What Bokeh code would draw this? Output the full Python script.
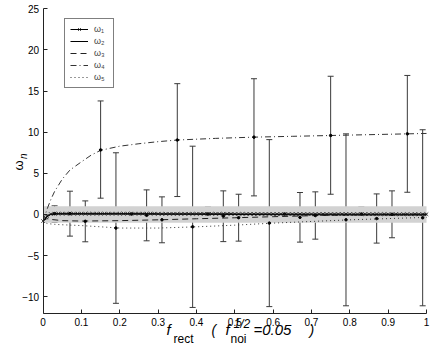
from bokeh.plotting import figure
from bokeh.models import (Range1d, FixedTicker, ColumnDataSource, Whisker, TeeHead,
                          Label, Legend, LegendItem)
from bokeh.embed import file_html
from bokeh.resources import INLINE

# ---------------- data ----------------
x1 = [round(i * 0.01, 2) for i in range(101)]
w1 = [-0.8, -0.2, 0.05, 0.1, 0.1, 0.1, 0.1, 0.1, 0.1, 0.1,
      0.1, 0.1, 0.1, 0.1, 0.1, 0.1, 0.1, 0.1, 0.1, 0.1,
      0.1, 0.1, 0.1, 0.1, 0.1, 0.1, 0.1, 0.1, 0.1, 0.1,
      0.08, 0.08, 0.08, 0.08, 0.08, 0.08, 0.08, 0.08, 0.08, 0.08,
      0.08, 0.08, 0.08, 0.08, 0.08, 0.08, 0.08, 0.08, 0.08, 0.08,
      0.06, 0.06, 0.06, 0.06, 0.06, 0.06, 0.06, 0.06, 0.06, 0.06,
      0.05, 0.05, 0.05, 0.05, 0.05, 0.05, 0.05, 0.05, 0.05, 0.05,
      0.05, 0.05, 0.05, 0.05, 0.05, 0.05, 0.05, 0.05, 0.05, 0.05,
      0.04, 0.04, 0.04, 0.04, 0.04, 0.04, 0.04, 0.04, 0.04, 0.04,
      0.03, 0.03, 0.03, 0.03, 0.03, 0.03, 0.03, 0.03, 0.03, 0.03,
      0.03]

x2 = [0, 0.01, 0.02, 0.04, 0.1, 0.2, 0.3, 0.4, 0.5, 0.6, 0.7, 0.8, 0.9, 1.0]
w2 = [-0.8, -0.3, 0.0, 0.05, 0.05, 0.05, 0.03, 0.02, 0.0, -0.02, -0.03, -0.05, -0.06, -0.07]

x3 = [0, 0.01, 0.02, 0.05, 0.1, 0.2, 0.3, 0.4, 0.5, 0.6, 0.7, 0.8, 0.9, 1.0]
w3 = [-0.8, -0.5, -0.6, -0.75, -0.8, -0.75, -0.65, -0.52, -0.4, -0.27, -0.15, -0.05, 0.02, 0.05]

x4 = [0, 0.01, 0.02, 0.03, 0.05, 0.07, 0.1, 0.125, 0.15, 0.2, 0.25, 0.3, 0.35,
      0.45, 0.55, 0.65, 0.75, 0.85, 0.95, 1.0]
w4 = [-0.8, 0.6, 1.8, 2.8, 4.3, 5.4, 6.4, 7.2, 7.8, 8.3, 8.6, 8.85, 9.05,
      9.25, 9.4, 9.5, 9.6, 9.7, 9.8, 9.85]

x5 = [0, 0.01, 0.03, 0.05, 0.1, 0.15, 0.2, 0.3, 0.4, 0.5, 0.6, 0.7, 0.8, 0.9, 1.0]
w5 = [-0.8, -1.1, -1.2, -1.25, -1.35, -1.5, -1.65, -1.65, -1.5, -1.3, -1.05, -0.85, -0.65, -0.5, -0.35]

# error bars (x, lower, upper, centre) for each omega
e1_x = [0.03, 0.23, 0.43, 0.63, 0.83]
e1_lo = [-0.97, -0.77, -0.8, -0.77, -0.8]
e1_hi = [1.05, 0.85, 0.9, 0.85, 0.9]
e1_c = [0.1, 0.05, 0.05, 0.05, 0.05]

e2_x = [0.07, 0.27, 0.47, 0.67, 0.87]
e2_lo = [-2.63, -3.2, -3.3, -3.36, -3.48]
e2_hi = [2.83, 2.99, 2.87, 2.67, 2.5]
e2_c = [0.1, -0.1, -0.2, -0.35, -0.5]

e3_x = [0.11, 0.31, 0.51, 0.71, 0.91]
e3_lo = [-3.32, -3.44, -3.24, -3.0, -2.83]
e3_hi = [1.65, 2.14, 2.46, 2.75, 2.87]
e3_c = [-0.83, -0.65, -0.39, -0.13, 0.02]

e4_x = [0.15, 0.35, 0.55, 0.75, 0.95]
e4_lo = [1.98, 2.18, 2.26, 2.46, 2.7]
e4_hi = [13.8, 15.9, 16.5, 16.8, 16.9]
e4_c = [7.85, 9.05, 9.4, 9.6, 9.8]

e5_x = [0.19, 0.39, 0.59, 0.79, 0.99]
e5_lo = [-10.8, -11.3, -11.2, -11.1, -11.1]
e5_hi = [7.5, 8.3, 9.1, 9.8, 10.3]
e5_c = [-1.65, -1.5, -1.05, -0.65, -0.4]

band_x = [0, 1]
band_lo = [-1, -1]
band_hi = [1, 1]

x_lim = (0, 1)
y_lim = (-12, 25)
xticks = [0, 0.1, 0.2, 0.3, 0.4, 0.5, 0.6, 0.7, 0.8, 0.9, 1]
xtick_labels = ["0", "0.1", "0.2", "0.3", "0.4", "0.5", "0.6", "0.7", "0.8", "0.9", "1"]
yticks = [-10, -5, 0, 5, 10, 15, 20, 25]
ytick_labels = ["\u221210", "\u22125", "0", "5", "10", "15", "20", "25"]
legend_labels = ["\u03c9\u2081", "\u03c9\u2082", "\u03c9\u2083", "\u03c9\u2084", "\u03c9\u2085"]

# ---------------- layout (pixels) ----------------
W, H = 434, 347
AX_L, AX_R, AX_T, AX_B = 42.6, 426.0, 8.3, 312.7   # axes box in page px
sx = (x_lim[1] - x_lim[0]) / (AX_R - AX_L)
sy = (y_lim[1] - y_lim[0]) / (AX_B - AX_T)
x_range = Range1d(x_lim[0] - AX_L * sx, x_lim[1] + (W - AX_R) * sx)
y_range = Range1d(y_lim[0] - (H - AX_B) * sy, y_lim[1] + AX_T * sy)

FONT = "Liberation Sans"
p = figure(width=W, height=H, output_backend="svg", toolbar_location=None,
           x_range=x_range, y_range=y_range,
           min_border_left=0, min_border_right=0, min_border_top=0, min_border_bottom=0)
p.outline_line_color = None
p.xgrid.visible = False
p.ygrid.visible = False
p.background_fill_color = "white"

p.xaxis.fixed_location = y_lim[0]
p.yaxis.fixed_location = x_lim[0]
p.xaxis.bounds = x_lim
p.yaxis.bounds = y_lim
for ax in (p.xaxis[0], p.yaxis[0]):
    ax.major_tick_in = 4
    ax.major_tick_out = 0
    ax.minor_tick_line_color = None
    ax.axis_line_color = "#222222"
    ax.major_tick_line_color = "#222222"
    ax.major_label_text_font = FONT
    ax.major_label_text_font_size = "10px"
    ax.major_label_text_color = "black"
p.xaxis[0].ticker = FixedTicker(ticks=xticks)
p.xaxis[0].major_label_overrides = {t: l for t, l in zip(xticks, xtick_labels)}
p.xaxis[0].major_label_standoff = 5
p.yaxis[0].ticker = FixedTicker(ticks=yticks)
p.yaxis[0].major_label_overrides = {t: l for t, l in zip(yticks, ytick_labels)}
p.yaxis[0].major_label_standoff = 4

# band
p.varea(x=band_x, y1=band_lo, y2=band_hi, fill_color="#d2d2d2")

# lines
l2 = p.line(x2, w2, line_color="black", line_width=1)
l3 = p.line(x3, w3, line_color="#222222", line_width=1, line_dash="6 4")
l4 = p.line(x4, w4, line_color="#333333", line_width=1, line_dash="6 3 1 3")
l5 = p.line(x5, w5, line_color="#333333", line_width=1, line_dash="1 3")

# error bars
ex = e1_x + e2_x + e3_x + e4_x + e5_x
elo = e1_lo + e2_lo + e3_lo + e4_lo + e5_lo
ehi = e1_hi + e2_hi + e3_hi + e4_hi + e5_hi
ec = e1_c + e2_c + e3_c + e4_c + e5_c
esrc = ColumnDataSource(dict(x=ex, lo=elo, hi=ehi, c=ec))
wcol = "#3a3a3a"
p.add_layout(Whisker(source=esrc, base="x", lower="lo", upper="hi", dimension="height",
                     line_color=wcol, line_width=1,
                     upper_head=TeeHead(size=6, line_color=wcol, line_width=1),
                     lower_head=TeeHead(size=6, line_color=wcol, line_width=1)))
p.scatter(x="x", y="c", source=esrc, size=2.5, color="black")

l1 = p.line(x1, w1, line_color="black", line_width=1)
s1 = p.scatter(x1, w1, marker="x", size=5, line_color="#111111", line_width=0.8)

legend = Legend(items=[LegendItem(label=legend_labels[0], renderers=[l1, s1]),
                       LegendItem(label=legend_labels[1], renderers=[l2]),
                       LegendItem(label=legend_labels[2], renderers=[l3]),
                       LegendItem(label=legend_labels[3], renderers=[l4]),
                       LegendItem(label=legend_labels[4], renderers=[l5])],
                location=(64, H - 88))
legend.margin = 0
legend.padding = 5
legend.spacing = 2
legend.glyph_width = 18
legend.glyph_height = 10
legend.label_height = 10
legend.label_width = 14
legend.label_standoff = 6
legend.border_line_color = "black"
legend.border_line_width = 1
legend.label_text_font = FONT
legend.label_text_font_size = "9px"
legend.label_text_baseline = "middle"
legend.background_fill_alpha = 1
p.add_layout(legend)

# axis titles as text labels, in px (x from left, y from bottom of the canvas)
def lab(x, y, t, size, italic=True, angle=0.0):
    p.add_layout(Label(x=x, y=y, x_units="screen", y_units="screen", text=t,
                       text_font=FONT, text_font_size=size,
                       text_font_style="italic" if italic else "normal",
                       text_align="left", text_baseline="alphabetic", angle=angle,
                       text_color="black"))

lab(166, 18, "f", "15px")
lab(173, 9, "rect", "12px", italic=False)
lab(211, 18, "(", "14px")
lab(225, 18, "f", "15px")
lab(230, 9, "noi", "12px", italic=False)
lab(233, 24, "1/2", "12px")
lab(253, 18, "=0.05", "15px")
lab(309, 18, ")", "14px")

lab(17.5, 177, "\u03c9", "13px", italic=False, angle=1.5708)
lab(23, 188.5, "n", "10px", angle=1.5708)

open("out.html", "w").write(file_html(p, INLINE))
